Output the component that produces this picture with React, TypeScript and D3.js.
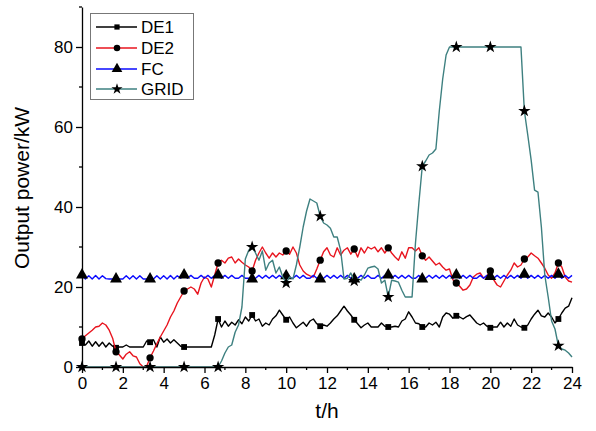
import React, { useRef, useEffect } from "react";
import { select, scaleLinear, axisBottom, axisLeft, line, symbol, symbolSquare, symbolCircle, symbolTriangle, symbolStar, range } from "d3";

// samples every 10 minutes, 0..24 h
const STEP = 1 / 6;
const MARKER_EVERY = 10;

const xTicks = [0, 2, 4, 6, 8, 10, 12, 14, 16, 18, 20, 22, 24];
const xMinor = [1, 3, 5, 7, 9, 11, 13, 15, 17, 19, 21, 23];
const yTicks = [0, 20, 40, 60, 80];
const yMinor = [10, 30, 50, 70, 90];

const de1 = [
  6, 5.5, 6.5, 5.2, 6.3, 5.2, 6.2, 5, 6, 5.2,
  4.8, 5, 5, 5.5, 5, 5, 5, 5, 5, 6.5,
  6.2, 6.8, 5, 7.5, 6.2, 7, 6, 6.8, 6, 5.2,
  5, 5, 5, 5, 5, 5, 5, 5, 5, 8,
  12, 10, 11.5, 10.2, 11.2, 10.5, 11.8, 10.8, 12.5, 11.5,
  13, 11.5, 12, 10.2, 11, 10.5, 12, 12.8, 14.2, 13,
  11.8, 12.5, 11, 9.8, 10.5, 11.2, 10.2, 11.5, 12, 10.8,
  10.2, 10.5, 10.2, 11, 12, 12.8, 14, 15.2, 14, 13,
  11.8, 10.8, 9.8, 10.5, 11, 10, 10, 10, 11, 10.2,
  10, 10, 10.2, 10, 11.5, 12, 13.8, 12.5, 11, 10.8,
  10, 10, 11, 10.5, 11.2, 10, 12.5, 13.5, 13.2, 12.2,
  12.8, 12.5, 12, 12.6, 13, 12, 11, 10.5, 11, 10.2,
  9.8, 10, 10, 11.2, 10, 11, 10.2, 12, 10.5, 10,
  9.8, 10.5, 12, 13.2, 14.2, 12.8, 12.5, 13.5, 12.5, 11,
  12, 13.5, 14.7, 15.2, 17.3,
];

const de2 = [
  7, 7.8, 8.5, 9.2, 10, 10.2, 11, 10.5, 9.2, 7.2,
  3.8, 3, 2, 3.2, 3.8, 2.8, 2.5, 0.8, 0, 0.2,
  2.3, 4, 5.8, 7.5, 9, 10.5, 12.5, 14, 16, 17.5,
  19, 19.5, 20, 19.5, 18.2, 21, 22.5, 22, 20, 23,
  26, 26.7, 26, 27.2, 27.5, 26, 27, 26.2, 25.5, 25,
  24, 26.7, 28.5, 30, 28.5, 27.2, 28.5, 27.5, 28.5, 28,
  29, 28.2, 30, 28.5, 25.5, 24, 23.2, 22.8, 22.5, 24.5,
  26.7, 28.8, 29.8, 28, 27.5, 29.8, 28, 29.2, 29.8, 28.2,
  29.5, 27.5, 29.8, 28.5, 30, 29.5, 30, 28.8, 29.8, 28.5,
  29.8, 28.5, 27.5, 26.7, 28.8, 27.2, 29.8, 29.8, 29, 29.8,
  27.8, 26.7, 27.5, 26.5, 25.5, 26, 25, 24.2, 24.5, 21.8,
  21, 20.2, 19.2, 19.5, 20.5, 22.5, 23.2, 23.5, 22.2, 22.8,
  24, 21.8, 20.5, 20, 21.5, 23, 24.2, 26, 25, 25.5,
  27, 27.5, 28.5, 27.8, 27.2, 26, 24.7, 23, 22.2, 23.5,
  26, 25, 22.5, 21.5, 21.2,
];

const fc = [
  23, 22, 22.8, 22, 22.9, 22, 22.8, 22.1, 22, 22,
  22, 22, 22, 22.8, 22, 22.8, 22, 22.8, 22, 22,
  22, 22, 22.8, 22, 22.8, 22, 22.9, 22, 22.8, 22.2,
  23, 22.2, 22.9, 22.2, 22.2, 22.9, 22.2, 22.9, 22.2, 22.9,
  23, 22.2, 22.9, 22.2, 22.9, 22.2, 22.2, 22.9, 22.2, 22.2,
  22, 22.2, 22.9, 22.2, 22.9, 22.2, 22.9, 22.2, 22.9, 22.2,
  22.8, 22.2, 22.2, 22.9, 22.2, 22.9, 22.2, 22.2, 22.9, 22.2,
  22, 22.2, 22.9, 22.2, 22.9, 22.2, 22.9, 22.2, 22.9, 22.2,
  22, 22.2, 22.9, 22.2, 22.9, 22.2, 22.2, 22.9, 22.2, 22.9,
  23, 22.2, 22.9, 22.2, 22.9, 22.2, 22.9, 22.2, 22.2, 22.9,
  22, 22.2, 22.9, 22.2, 22.9, 22.2, 22.9, 22.2, 22.9, 22.2,
  23, 22.2, 22.9, 22.2, 22.9, 22.2, 22.2, 22.9, 22.2, 22.9,
  22.6, 22.2, 22.9, 22.2, 22.9, 22.2, 22.9, 22.2, 22.9, 22.2,
  23.2, 22.2, 22.9, 22.2, 22.9, 22.2, 22.9, 22.2, 22.9, 22.2,
  23.2, 22.2, 22.9, 22.2, 22.9,
];

const grid = [
  0, 0, 0, 0, 0, 0, 0, 0, 0, 0,
  0, 0, 0, 0, 0, 0, 0, 0, 0, 0,
  0, 0, 0, 0, 0, 0, 0, 0, 0, 0,
  0, 0, 0, 0, 0, 0, 0, 0, 0, 0,
  0, 1.5, 3.5, 5, 5.5, 8.7, 10.5, 15, 27, 29.2,
  30, 28.5, 26.7, 29, 24.2, 26, 26.7, 23.5, 25, 22.5,
  21, 22.5, 22, 25.5, 30, 35, 39, 42, 41.5, 41,
  37.7, 36, 35.5, 34.7, 32.5, 32.5, 29.2, 22, 22.2, 23.5,
  21.5, 22, 21.7, 23, 24.7, 25, 25.2, 24.5, 21, 21.7,
  17.5, 21.7, 21.5, 21.2, 19.2, 17.5, 17.5, 17.5, 31, 41,
  50.2, 51.5, 53, 53.5, 54.5, 64, 72, 78, 80, 80,
  80, 80, 80, 80, 80, 80, 80, 80, 80, 80,
  80, 80, 80, 80, 80, 80, 80, 80, 80, 80,
  64, 58, 51.7, 44.2, 43.7, 35, 23, 17.5, 11.5, 9.5,
  5.3, 4.5, 4.2, 3.5, 2.5,
];

const series = [
  { name: "DE1", color: "#000000", values: de1, shape: symbolSquare, size: 34 },
  { name: "DE2", color: "#e8141e", values: de2, shape: symbolCircle, size: 42 },
  { name: "FC", color: "#0a0aff", values: fc, shape: symbolTriangle, size: 62 },
  { name: "GRID", color: "#3e8080", values: grid, shape: symbolStar, size: 48 },
];

const font = "'Liberation Sans', Arial, sans-serif";

function App() {
  const xAxisRef = useRef(null);
  const yAxisRef = useRef(null);

  const xscale = scaleLinear().domain([0, 24]).range([82, 572]);
  const yscale = scaleLinear().domain([0, 90]).range([367, 7]);

  useEffect(() => {
    const xa = select(xAxisRef.current);
    xa.selectAll("*").remove();
    xa.call(axisBottom(xscale).tickValues(xTicks).tickSize(6).tickSizeOuter(0).tickPadding(4));
    xa.append("g").selectAll("line").data(xMinor).join("line")
      .attr("x1", d => xscale(d)).attr("x2", d => xscale(d))
      .attr("y1", 0).attr("y2", 3).attr("stroke", "#000");

    const ya = select(yAxisRef.current);
    ya.selectAll("*").remove();
    ya.call(axisLeft(yscale).tickValues(yTicks).tickSize(6).tickSizeOuter(0).tickPadding(3));
    ya.append("g").selectAll("line").data(yMinor).join("line")
      .attr("y1", d => yscale(d)).attr("y2", d => yscale(d))
      .attr("x1", 0).attr("x2", -3).attr("stroke", "#000");

    [xa, ya].forEach(a => {
      a.selectAll(".domain").attr("stroke-width", 1.3);
      a.selectAll("line").attr("stroke-width", 1.3);
      a.selectAll("text").style("font-family", font).style("font-size", "17px").attr("fill", "#000");
    });
  }, []);

  const myLine = line<number>()
    .x((d, i) => xscale(i * STEP))
    .y(d => yscale(d));

  const legendY = [27, 48, 69, 89];

  return (
    <svg width={596} height={431} style={{ position: "absolute", left: 0, top: 0, background: "#fff" }}>
      {series.map(s => (
        <g key={s.name}>
          <path d={myLine(s.values) || ""} fill="none" stroke={s.color} strokeWidth={1.4} strokeLinejoin="round" />
          {range(0, s.values.length, MARKER_EVERY).map(i => (
            <path key={i} d={symbol(s.shape, s.size)() || ""}
              transform={`translate(${xscale(i * STEP)},${yscale(s.values[i])})`} fill="#000" />
          ))}
        </g>
      ))}
      <g ref={xAxisRef} transform="translate(0,367)" />
      <g ref={yAxisRef} transform="translate(82,0)" />

      <rect x={90.5} y={13.5} width={103} height={86} fill="#fff" stroke="#777" strokeWidth={1} />
      {series.map((s, k) => (
        <g key={s.name} transform={`translate(0,${legendY[k]})`}>
          <line x1={96} x2={137} y1={0} y2={0} stroke={s.color} strokeWidth={1.4} />
          <path d={symbol(s.shape, s.size * 0.8)() || ""} transform="translate(117,0)" fill="#000" />
          <text x={141} y={6} fontFamily={font} fontSize={17}>{s.name}</text>
        </g>
      ))}

      <text x={327} y={418} textAnchor="middle" fontFamily={font} fontSize={21}>t/h</text>
      <text transform="translate(29,188) rotate(-90)" textAnchor="middle" fontFamily={font} fontSize={21}>Output power/kW</text>
    </svg>
  );
}

export default App;
